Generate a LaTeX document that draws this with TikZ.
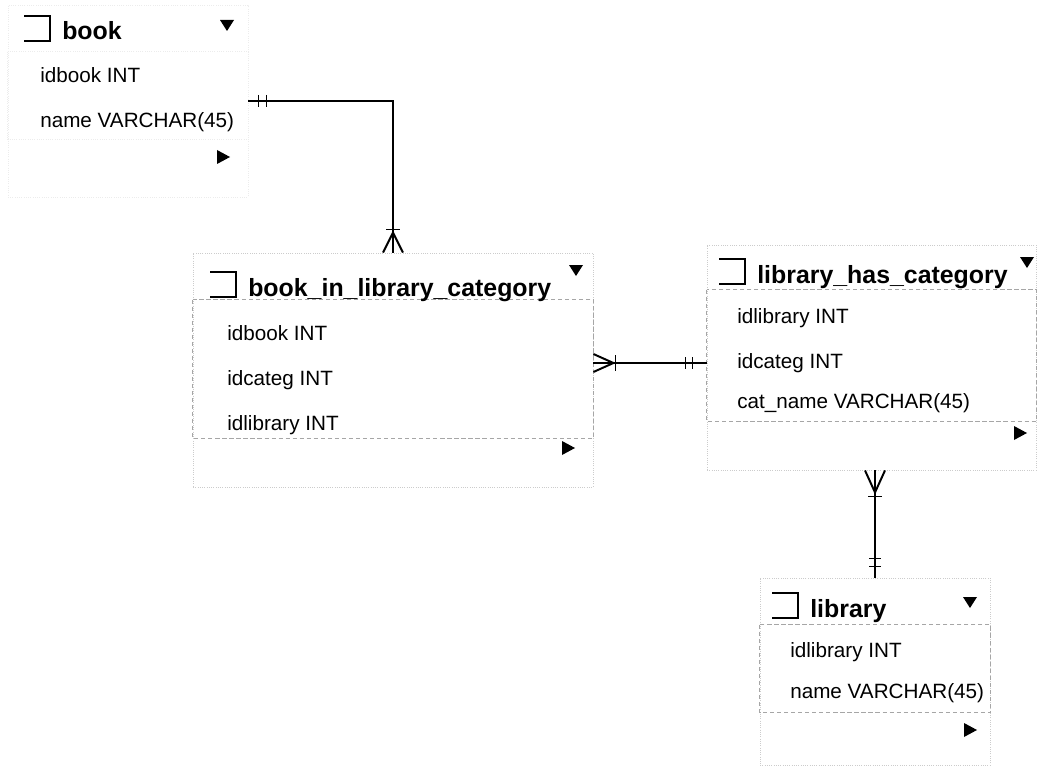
\documentclass[tikz,border=0pt]{standalone}
\usepackage{fontspec}
\setmainfont{Liberation Sans}
\usetikzlibrary{calc,fit}
\newcommand\tblicon[1]{\draw[line width=1.3pt, line join=miter] ($(#1.base west)+(-38,-24)$) -- ($(#1.base west)+(-12,-24)$) -- ($(#1.base west)+(-12,1)$) -- ($(#1.base west)+(-38,1)$);}
\newcommand\dntri[1]{\fill ($#1+(-7,-5)$) -- ($#1+(7,-5)$) -- ($#1+(0,6)$) -- cycle;}
\newcommand\rttri[1]{\fill ($#1+(-6,-7)$) -- ($#1+(-6,7)$) -- ($#1+(7,0)$) -- cycle;}
\begin{document}
\begin{tikzpicture}[x=0.025cm, y=-0.025cm,
  tbl/.style={draw=gray!40, densely dotted, line width=0.6pt, inner sep=0pt},
  fbox/.style={draw=gray!70, densely dashed, line width=0.5pt},
  ttl/.style={anchor=base west, inner sep=0pt, font=\bfseries\fontsize{17.7}{20}\selectfont},
  fld/.style={anchor=base west, inner sep=0pt, font=\fontsize{14.7}{17}\selectfont},
  rel/.style={line width=1.9pt},
  foot/.style={line width=1.4pt},
  tick/.style={line width=0.9pt}]
\useasboundingbox (0,0) rectangle (1039,768);

\node[tbl, draw=gray!15, fit={(8,5) (248,197)}] (book) {};
\node[tbl, fit={(193,253) (593,487)}] (bilc) {};
\node[tbl, fit={(707,245) (1036,470)}] (lhc) {};
\node[tbl, fit={(760,578) (990,765)}] (library) {};

\draw[tbl, draw=gray!15] ($(book.north west)+(0,47)$) rectangle ($(book.north east)+(0,135)$);
\draw[fbox] ($(bilc.north west)+(0,47)$) rectangle ($(bilc.north east)+(0,186)$);
\draw[fbox] ($(lhc.north west)+(0,45)$) rectangle ($(lhc.north east)+(0,177)$);
\draw[fbox] ($(library.north west)+(0,47)$) rectangle ($(library.north east)+(0,135)$);

\node[ttl] (booktitle) at (62,40) {book};
\node[fld] (bookid) at (40,83) {idbook INT};
\node[fld] (bookname) at (40,128) {name VARCHAR(45)};

\node[ttl] (bilctitle) at (248,296) {book\_in\_library\_category};
\node[fld] (bilcbook) at (227,340) {idbook INT};
\node[fld] (bilccateg) at (227,385) {idcateg INT};
\node[fld] (bilclib) at (227,430) {idlibrary INT};

\node[ttl] (lhctitle) at (757,283) {library\_has\_category};
\node[fld] (lhclib) at (737,323) {idlibrary INT};
\node[fld] (lhccateg) at (737,368) {idcateg INT};
\node[fld] (lhcname) at (737,408) {cat\_name VARCHAR(45)};

\node[ttl] (libtitle) at (810,617) {library};
\node[fld] (libid) at (790,657) {idlibrary INT};
\node[fld] (libname) at (790,698) {name VARCHAR(45)};

\tblicon{booktitle}
\tblicon{bilctitle}
\tblicon{lhctitle}
\tblicon{libtitle}
\dntri{(227,25)}
\dntri{(576,270)}
\dntri{(1027,262)}
\dntri{(970,602)}
\rttri{(223,157)}
\rttri{(568,448)}
\rttri{(1020,433)}
\rttri{(970,730)}

\draw[rel] (book.east) -| (bilc.north);
\draw[tick] ($(book.east)+(10,-6)$) -- ($(book.east)+(10,6)$) ($(book.east)+(18,-6)$) -- ($(book.east)+(18,6)$);
\draw[foot] ($(bilc.north)+(-10,0)$) -- ($(bilc.north)+(0,-20)$) -- ($(bilc.north)+(10,0)$);
\draw[tick] ($(bilc.north)+(-7,-23)$) -- ($(bilc.north)+(7,-23)$);

\coordinate (bilclhc) at ($(bilc.east)+(0,-7)$);
\coordinate (lhcend) at (bilclhc -| lhc.west);
\draw[rel] (bilclhc) -- (lhcend);
\draw[foot] ($(bilclhc)+(0,-9)$) -- ($(bilclhc)+(20,0)$) -- ($(bilclhc)+(0,9)$);
\draw[tick] ($(bilclhc)+(22,-8)$) -- ($(bilclhc)+(22,8)$);
\draw[tick] ($(lhcend)+(-21,-6)$) -- ($(lhcend)+(-21,6)$) ($(lhcend)+(-14,-6)$) -- ($(lhcend)+(-14,6)$);

\coordinate (lhclibtop) at (library.north |- lhc.south);
\draw[rel] (lhclibtop) -- (library.north);
\draw[foot] ($(lhclibtop)+(-10,0)$) -- ($(lhclibtop)+(0,22)$) -- ($(lhclibtop)+(10,0)$);
\draw[tick] ($(lhclibtop)+(-7,26)$) -- ($(lhclibtop)+(7,26)$);
\draw[tick] ($(library.north)+(-6,-19)$) -- ($(library.north)+(6,-19)$) ($(library.north)+(-6,-11)$) -- ($(library.north)+(6,-11)$);
\end{tikzpicture}
\end{document}
